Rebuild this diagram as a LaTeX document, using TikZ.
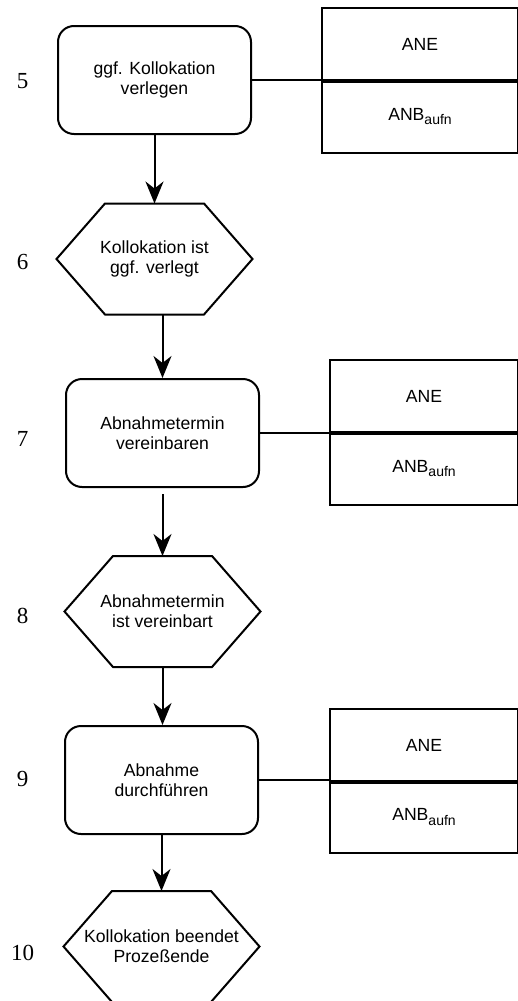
\documentclass[tikz,border=0pt]{standalone}
\usepackage{fontspec}
\setmainfont{Liberation Serif}
\newfontfamily\arialfont{Liberation Sans}
\usetikzlibrary{arrows.meta}
\tikzset{
  boxfont/.style={font=\arialfont\fontsize{8.8}{10}\selectfont},
  stepbox/.style={draw, boxfont, rounded corners=8pt, minimum width=96.5pt, minimum height=54pt, align=center, line width=1pt},
  hexbox/.style={boxfont, minimum width=98pt, minimum height=55.5pt, align=center, outer sep=0pt},
  hexline/.style={line width=1pt, line join=miter},
  rolebox/.style={draw, boxfont, line width=1pt, minimum height=36pt},
  divider/.style={line width=1.8pt},
  flow/.style={-{Stealth[length=11pt,width=9pt,inset=3.5pt]}, line width=1pt},
  link/.style={line width=0.9pt},
  stepno/.style={font=\fontsize{11.5}{13}\selectfont}
}
\newcommand{\anbaufn}{ANB\raisebox{-0.5ex}{\fontsize{7}{8}\selectfont aufn}}
\begin{document}
\begin{tikzpicture}[x=0.5pt,y=-0.5pt]
\useasboundingbox (0,0) rectangle (518,1001);

% steps
\node[stepbox] (box5) at (154.5,80) {ggf. Kollokation\\verlegen};
\node[hexbox] (hex6) at (154.5,259) {Kollokation ist\\ggf. verlegt};
\node[stepbox] (box7) at (162.5,433) {Abnahmetermin\\vereinbaren};
\node[hexbox] (hex8) at (162.5,611.5) {Abnahmetermin\\ist vereinbart};
\node[stepbox] (box9) at (161.5,780) {Abnahme\\durchf\"uhren};
\node[hexbox] (hex10) at (161.5,946.5) {Kollokation beendet\\Proze\ss ende};

\foreach \h in {hex6,hex8,hex10}
  \draw[hexline] (\h.west) -- ([xshift=24.25pt]\h.north west) -- ([xshift=-24.25pt]\h.north east)
    -- (\h.east) -- ([xshift=-24.25pt]\h.south east) -- ([xshift=24.25pt]\h.south west) -- cycle;

% numbers
\node[stepno] (n5) at (22.5,81) {5};
\node[stepno] (n6) at (22.5,262) {6};
\node[stepno] (n7) at (22.5,439) {7};
\node[stepno] (n8) at (22.5,616) {8};
\node[stepno] (n9) at (22.5,779) {9};
\node[stepno] (n10) at (22.5,953) {10};

% roles
\node[rolebox, minimum width=98pt] (ane5) at (420,44) {ANE};
\node[rolebox, minimum width=98pt, minimum height=36.5pt] (anb5) at (420,116.5) {\anbaufn};
\node[rolebox, minimum width=94pt] (ane7) at (424,396) {ANE};
\node[rolebox, minimum width=94pt, minimum height=36.5pt] (anb7) at (424,468.5) {\anbaufn};
\node[rolebox, minimum width=94pt] (ane9) at (424,745) {ANE};
\node[rolebox, minimum width=94pt] (anb9) at (424,817) {\anbaufn};

\draw[divider] (ane5.south west) -- (ane5.south east);
\draw[divider] (ane7.south west) -- (ane7.south east);
\draw[divider] (ane9.south west) -- (ane9.south east);

\draw[link] (box5.east) -- (box5.east -| ane5.west);
\draw[link] (box7.east) -- (box7.east -| ane7.west);
\draw[link] (box9.east) -- (box9.east -| ane9.west);

% flow
\draw[flow] (box5.south) -- (hex6.north);
\draw[flow] (hex6.south -| box7.north) -- (box7.north);
\draw[flow, shorten <=3pt] (box7.south) -- (hex8.north);
\draw[flow] (hex8.south) -- (box9.north -| hex8.south);
\draw[flow] (box9.south) -- (hex10.north -| box9.south);
\end{tikzpicture}
\end{document}
